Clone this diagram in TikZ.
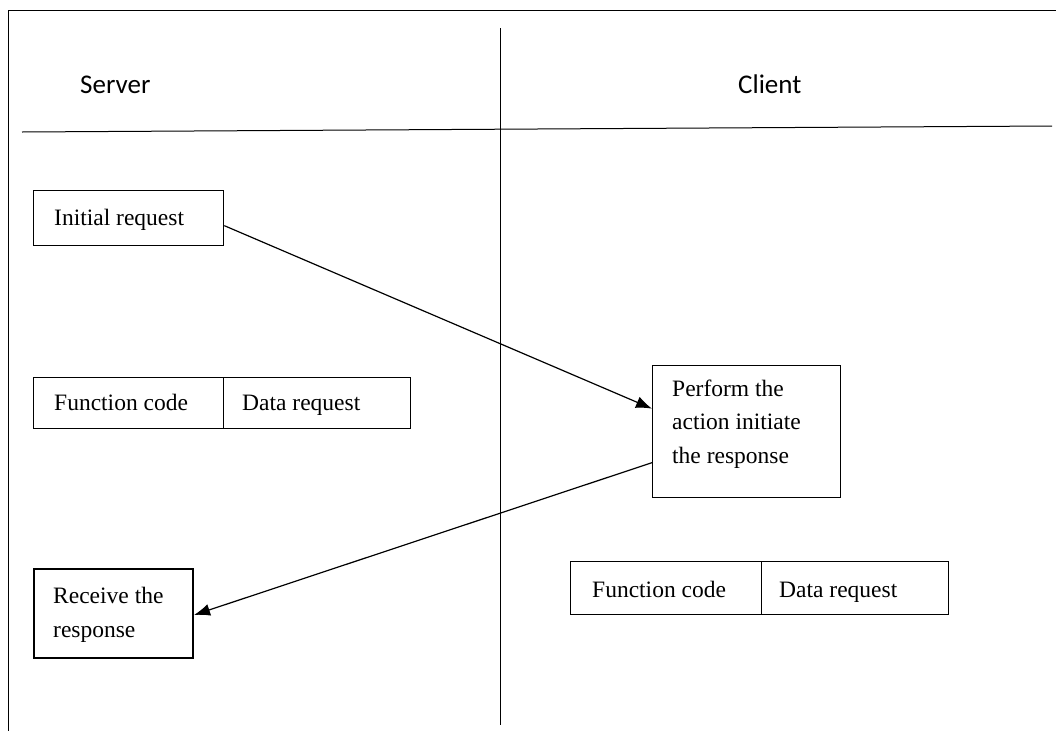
\documentclass[tikz,border=0pt]{standalone}
\usepackage{fontspec}
\setmainfont{Liberation Serif}
\newfontfamily\calib{Carlito}
\usetikzlibrary{arrows.meta}
\begin{document}
\begin{tikzpicture}[x=1pt,y=-1pt,
  box/.style={draw, line width=1.3pt, inner sep=0pt, anchor=north west},
  txt/.style={font=\fontsize{23.5}{33.5}\selectfont, anchor=base west, inner sep=0pt, align=left},
  head/.style={font=\calib\fontsize{27}{30}\selectfont, anchor=base west, inner sep=0pt},
  rule/.style={line width=1pt},
  flow/.style={line width=1.2pt, -{Latex[length=16pt,width=12pt]}}
]
\useasboundingbox (0,0) rectangle (1056,731);
% frame and lanes
\coordinate (tl) at (8,10);
\coordinate (tr) at (1056,10);
\coordinate (bl) at (8,731);
\draw[rule] (tr) -- (tl) -- (bl);
\coordinate (vt) at (500,28);
\coordinate (vb) at (500,725);
\draw[rule] (vt) -- (vb);
\coordinate (hl) at (22,132);
\coordinate (hr) at (1052,126);
\draw[rule] (hl) -- (hr);
\node[head] (srv) at (80,93) {Server};
\node[head] (cli) at (738,93) {Client};
% server boxes
\node[box, minimum width=190pt, minimum height=55pt] (ir) at (33,190) {};
\node[txt] (irt) at (54,225) {Initial request};
\node[box, minimum width=190pt, minimum height=51pt] (fc1) at (33,377) {};
\node[box, minimum width=187pt, minimum height=51pt] (dr1) at (223,377) {};
\node[txt] (fc1t) at (54,410) {Function code};
\node[txt] (dr1t) at (242,410) {Data request};
\node[box, line width=2pt, minimum width=159pt, minimum height=89pt] (rr) at (33,568) {};
\node[txt] (rrt) at (53,637) {Receive the\\response};
% client boxes
\node[box, minimum width=188pt, minimum height=132pt] (pa) at (652,365) {};
\node[txt] (pat) at (672,463) {Perform the\\action initiate\\the response};
\node[box, minimum width=191pt, minimum height=53pt] (fc2) at (570,561) {};
\node[box, minimum width=187pt, minimum height=53pt] (dr2) at (761,561) {};
\node[txt] (fc2t) at (592,597) {Function code};
\node[txt] (dr2t) at (779,597) {Data request};
% connectors
\draw[flow] ([yshift=-7.5pt]ir.east) -- ([yshift=23pt]pa.west);
\draw[flow] ([yshift=-31pt]pa.west) -- ([yshift=-1.5pt]rr.east);
\end{tikzpicture}
\end{document}
